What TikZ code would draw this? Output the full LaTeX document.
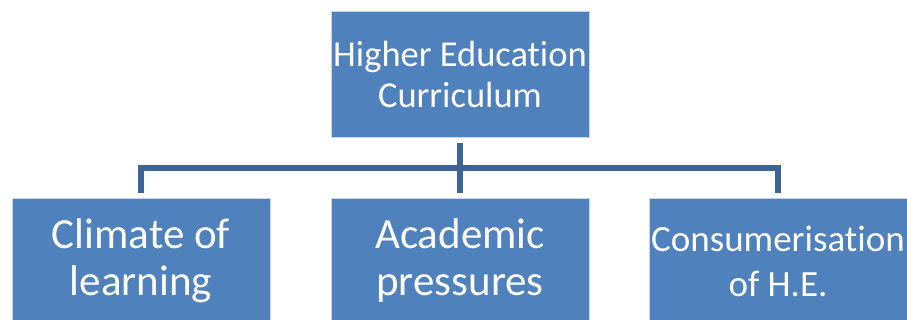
\documentclass[tikz,border=0pt]{standalone}
\usepackage{fontspec}
\setmainfont{Carlito}[Ligatures=NoCommon]
\usetikzlibrary{positioning}
\definecolor{boxblue}{RGB}{79,129,189}
\definecolor{connblue}{RGB}{60,100,150}
\definecolor{edgeblue}{RGB}{200,214,234}

\begin{document}
\begin{tikzpicture}[x=1pt, y=-1pt,
  unit/.style={draw=edgeblue, line width=0.8pt, fill=boxblue, text=white, align=center,
    minimum width=258pt, minimum height=126pt, inner sep=0pt, outer sep=0pt},
  conn/.style={draw=connblue, line width=6pt},
  big/.style={font=\fontsize{43}{47}\selectfont},
  mid/.style={font=\fontsize{36.5}{41}\selectfont}]
\clip (0,0) rectangle (907,320);
\useasboundingbox (0,0) rectangle (907,320);
% boxes
\node[unit, mid] (top) at (460,74) {Higher Education\\Curriculum};
\node[unit, big] (climate) at (141,261) {Climate of\\learning};
\node[unit, big] (academic) at (460,261) {Academic\\pressures};
\node[unit, font=\fontsize{37}{45}\selectfont] (consumer) at (778,261) {Consumerisation\\of H.E.};
% connectors
\coordinate (bus) at (460,168);
\draw[conn, shorten <=6pt, shorten >=5pt] (top.south) -- (academic.north);
\draw[conn, shorten <=5pt, shorten >=5pt] (climate.north) -- (climate.north |- bus) -- (consumer.north |- bus) -- (consumer.north);
\end{tikzpicture}
\end{document}
